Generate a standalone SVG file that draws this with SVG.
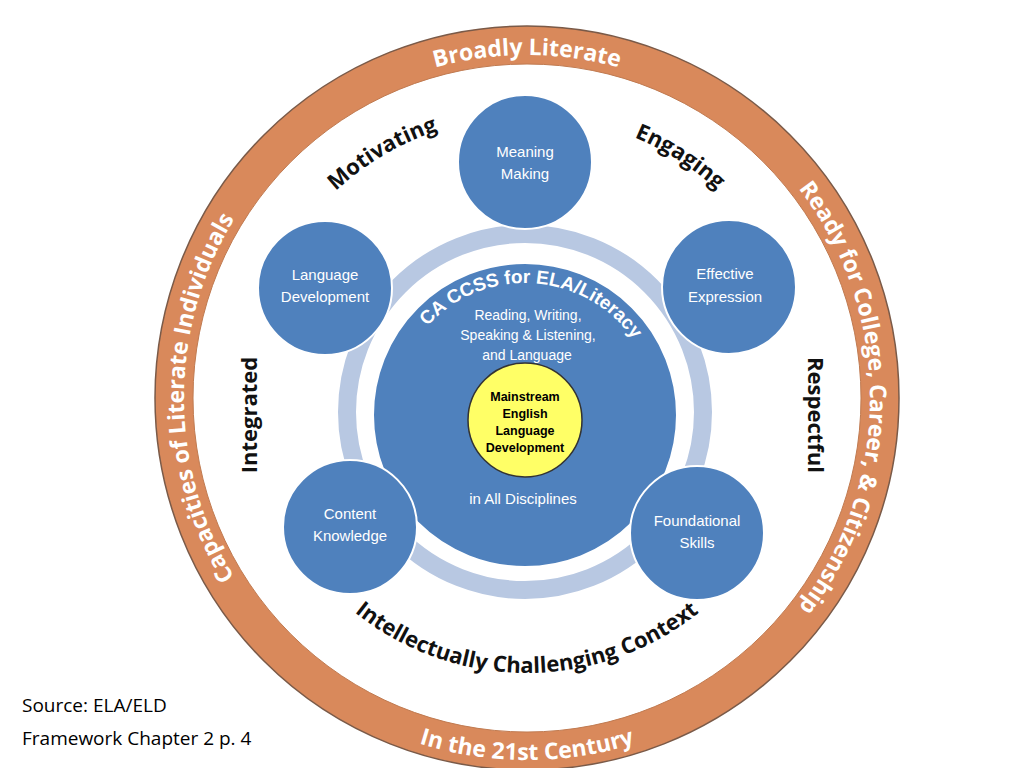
<svg xmlns="http://www.w3.org/2000/svg" width="1024" height="768" viewBox="0 0 1024 768">
<style>
.ring{font-family:"Open Sans","Liberation Sans",sans-serif;font-weight:bold;font-size:23px;fill:#fff}
.word{font-family:"Open Sans","Liberation Sans",sans-serif;font-weight:bold;font-size:22px;fill:#111}
.node{fill:#4f81bd;stroke:#fff;stroke-width:2}
.nt{font-family:"Liberation Sans",Arial,sans-serif;font-size:15px;fill:#fff;text-anchor:middle}
.it{font-family:"Liberation Sans",Arial,sans-serif;font-size:14px;fill:#fff;text-anchor:middle}
.yt{font-family:"Liberation Sans",Arial,sans-serif;font-weight:bold;font-size:12.5px;fill:#000;text-anchor:middle}
.src{font-family:"Open Sans","Liberation Sans",sans-serif;font-size:19px;fill:#000}
</style>
<defs>
<path id="topR" d="M184,398 A343,343 0 0 1 870,398"/>
<path id="rightR" d="M527,55 A343,343 0 0 1 527,741"/>
<path id="leftR" d="M527,741 A343,343 0 0 1 527,55"/>
<path id="botR" d="M165,398 A362,362 0 0 0 889,398"/>
<path id="topW" d="M245,398 A282,282 0 0 1 809,398"/>
<path id="botW" d="M252,398 A275,275 0 0 0 802,398"/>
<path id="ccss" d="M393,415 A132,132 0 0 1 657,415"/>
</defs>
<rect width="1024" height="768" fill="#fff"/>
<g id="outer-ring">
<circle cx="527" cy="398" r="372" fill="#d9895b" stroke="#7a5a48" stroke-width="1.5"/>
<circle cx="527" cy="398" r="334" fill="#fff" stroke="#c07a50" stroke-width="1"/>
<text class="ring"><textPath href="#topR" startOffset="50%" text-anchor="middle">Broadly Literate</textPath></text>
<text class="ring"><textPath href="#rightR" startOffset="50%" text-anchor="middle">Ready for College, Career, &amp; Citizenship</textPath></text>
<text class="ring"><textPath href="#leftR" startOffset="50%" text-anchor="middle">Capacities of Literate Individuals</textPath></text>
<text class="ring"><textPath href="#botR" startOffset="50%" text-anchor="middle">In the 21st Century</textPath></text>
</g>
<g id="context-words">
<text class="word"><textPath href="#topW" startOffset="33%" text-anchor="middle">Motivating</textPath></text>
<text class="word"><textPath href="#topW" startOffset="68%" text-anchor="middle">Engaging</textPath></text>
<text class="word"><textPath href="#botW" startOffset="50%" text-anchor="middle">Intellectually Challenging Context</textPath></text>
<text class="word" transform="translate(808,415) rotate(90)" text-anchor="middle">Respectful</text>
<text class="word" transform="translate(257,415) rotate(-90)" text-anchor="middle">Integrated</text>
</g>
<g id="connectors">
<circle cx="525" cy="412" r="178" fill="none" stroke="#b8c8e2" stroke-width="18"/>
</g>
<g id="center">
<circle cx="525" cy="415" r="152" class="node"/>
<text style="font-family:'Liberation Sans',Arial,sans-serif;font-weight:bold;font-size:19px;fill:#fff"><textPath href="#ccss" startOffset="52%" text-anchor="middle">CA CCSS for ELA/Literacy</textPath></text>
<text class="it" x="528" y="320">Reading, Writing,</text>
<text class="it" x="528" y="340">Speaking &amp; Listening,</text>
<text class="it" x="527" y="360">and Language</text>
<text class="nt" x="523" y="504">in All Disciplines</text>
</g>
<g id="mainstream">
<circle cx="525" cy="420" r="57" fill="#ffff66" stroke="#333" stroke-width="1.5"/>
<text class="yt" x="525" y="401">Mainstream</text>
<text class="yt" x="525" y="418">English</text>
<text class="yt" x="525" y="435">Language</text>
<text class="yt" x="525" y="452">Development</text>
</g>
<g id="meaning"><circle cx="525" cy="162" r="67" class="node"/><text class="nt" x="525" y="157">Meaning</text><text class="nt" x="525" y="179">Making</text></g>
<g id="language"><circle cx="325" cy="288" r="67" class="node"/><text class="nt" x="325" y="280">Language</text><text class="nt" x="325" y="302">Development</text></g>
<g id="expression"><circle cx="729" cy="287" r="67" class="node"/><text class="nt" x="725" y="279">Effective</text><text class="nt" x="725" y="302">Expression</text></g>
<g id="content"><circle cx="350" cy="527" r="67" class="node"/><text class="nt" x="350" y="519">Content</text><text class="nt" x="350" y="541">Knowledge</text></g>
<g id="foundational"><circle cx="697" cy="533" r="67" class="node"/><text class="nt" x="697" y="526">Foundational</text><text class="nt" x="697" y="548">Skills</text></g>
<g id="source">
<text class="src" x="22" y="712">Source: ELA/ELD</text>
<text class="src" x="22" y="745">Framework Chapter 2 p. 4</text>
</g>
</svg>
